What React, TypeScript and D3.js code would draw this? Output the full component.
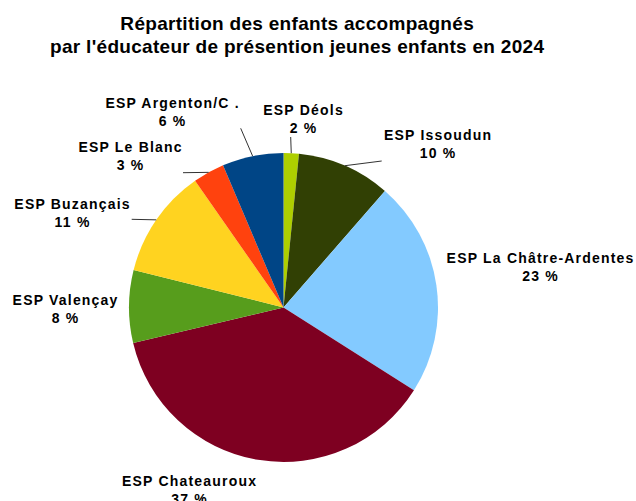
import React from "react";
import * as d3 from "d3";

const categories = [
  "ESP Déols",
  "ESP Issoudun",
  "ESP La Châtre-Ardentes",
  "ESP Chateauroux",
  "ESP Valençay",
  "ESP Buzançais",
  "ESP Le Blanc",
  "ESP Argenton/C .",
];
const values = [1.6, 9.8, 22.6, 37.3, 7.6, 11.4, 3.3, 6.4];
const colors = ["#aecf00", "#314004", "#83caff", "#7e0021", "#579d1c", "#ffd320", "#ff420e", "#004586"];
const titleLines = ["Répartition des enfants accompagnés", "par l'éducateur de présention jeunes enfants en 2024"];

// label layout: center x, first-line baseline y, optional leader line end
const labelLayout: { x: number; y: number; lx?: number; ly?: number }[] = [
  { x: 303, y: 115, lx: 290.7, ly: 137 },
  { x: 437.5, y: 140, lx: 381.7, ly: 161 },
  { x: 540, y: 263 },
  { x: 189, y: 486 },
  { x: 65, y: 305 },
  { x: 72, y: 209, lx: 131.7, ly: 219.3 },
  { x: 130, y: 152, lx: 183, ly: 172.7 },
  { x: 172, y: 108, lx: 240.7, ly: 128.3 },
];

const W = 636;
const H = 501;
const cx = 283.5;
const cy = 307.5;
const R = 154.5;
const FONT = "'Liberation Sans', Arial, sans-serif";
const LS = 1.2;

export default function App() {
  const pie = d3.pie<number>().sort(null).startAngle(0).endAngle(2 * Math.PI);
  const arcs = pie(values);
  const arcGen = d3.arc<d3.PieArcDatum<number>>().innerRadius(0).outerRadius(R);
  const total = d3.sum(values);
  return (
    <svg width={W} height={H} style={{ position: "absolute", left: 0, top: 0, background: "#fff" }}>
      <rect width={W} height={H} fill="#fff" />
      <g fontFamily={FONT} fontWeight="bold" fontSize={19} letterSpacing={0.3} textAnchor="middle" fill="#000">
        <text x={297.2} y={30}>{titleLines[0]}</text>
        <text x={297.2} y={53}>{titleLines[1]}</text>
      </g>
      <g transform={`translate(${cx},${cy})`}>
        {arcs.map((a, i) => (
          <path key={i} d={arcGen(a) || ""} fill={colors[i]} />
        ))}
      </g>
      {arcs.map((a, i) => {
        const L = labelLayout[i];
        if (L.lx === undefined || L.ly === undefined) return null;
        const mid = (a.startAngle + a.endAngle) / 2;
        const sx = cx + R * Math.sin(mid);
        const sy = cy - R * Math.cos(mid);
        return <line key={i} x1={sx} y1={sy} x2={L.lx} y2={L.ly} stroke="#333" strokeWidth={1} />;
      })}
      <g fontFamily={FONT} fontWeight="bold" fontSize={14} letterSpacing={LS} textAnchor="middle" fill="#000">
        {arcs.map((a, i) => {
          const L = labelLayout[i];
          const pct = Math.round((values[i] / total) * 100);
          return (
            <g key={i}>
              <text x={L.x + LS / 2} y={L.y}>{categories[i]}</text>
              <text x={L.x + LS / 2} y={L.y + 18}>{`${pct} %`}</text>
            </g>
          );
        })}
      </g>
    </svg>
  );
}
